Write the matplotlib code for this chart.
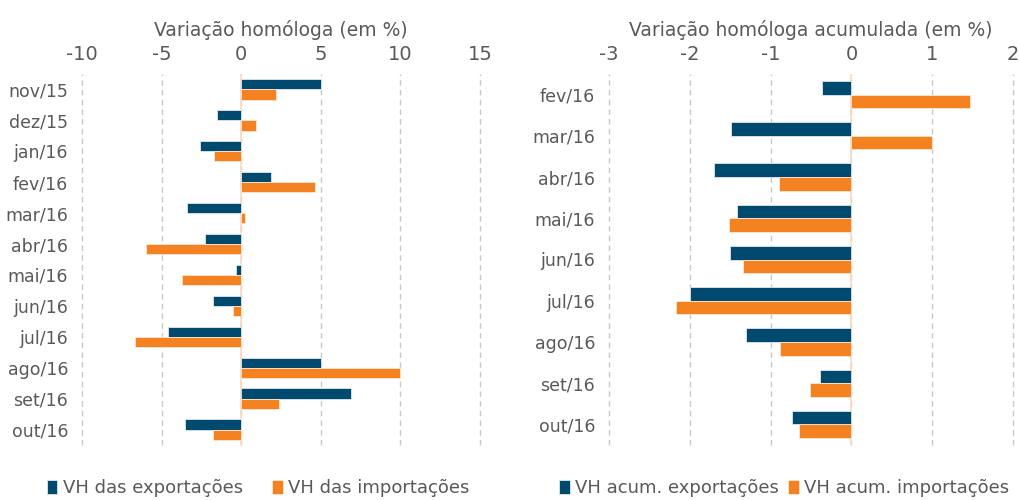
import matplotlib.pyplot as plt
import numpy as np

# left panel: monthly y/y change (%)
meses_l = ['nov/15', 'dez/15', 'jan/16', 'fev/16', 'mar/16', 'abr/16',
           'mai/16', 'jun/16', 'jul/16', 'ago/16', 'set/16', 'out/16']
vh_exp = [5.0, -1.5, -2.6, 1.85, -3.4, -2.25, -0.3, -1.8, -4.6, 5.0, 6.9, -3.5]
vh_imp = [2.2, 0.9, -1.7, 4.65, 0.25, -6.0, -3.7, -0.5, -6.7, 10.0, 2.4, -1.8]

# right panel: accumulated y/y change (%)
meses_r = ['fev/16', 'mar/16', 'abr/16', 'mai/16', 'jun/16',
           'jul/16', 'ago/16', 'set/16', 'out/16']
acum_exp = [-0.37, -1.49, -1.70, -1.42, -1.50, -2.0, -1.30, -0.39, -0.73]
acum_imp = [1.47, 1.0, -0.89, -1.51, -1.34, -2.17, -0.88, -0.51, -0.65]

azul = '#004A6F'
laranja = '#F58220'
cinza = '#595959'

plt.rcParams['font.family'] = ['DejaVu Sans']

fig = plt.figure(figsize=(10.19, 5.0), dpi=100)
ax1 = fig.add_axes([82 / 1019, 55 / 500, 398 / 1019, 371 / 500])
ax2 = fig.add_axes([609 / 1019, 55 / 500, 404 / 1019, 371 / 500])


def painel(ax, cats, exp, imp, xlim, ticks, titulo, lab_exp, lab_imp, leg_x, colsp):
    y = np.arange(len(cats))
    h = 0.33
    ax.barh(y - h / 2, exp, height=h, color=azul, edgecolor='#dde8ef',
            linewidth=0.6, label=lab_exp, zorder=3)
    ax.barh(y + h / 2, imp, height=h, color=laranja, edgecolor='#fde6d2',
            linewidth=0.6, label=lab_imp, zorder=3)
    ax.set_ylim(len(cats) - 0.5, -0.5)
    ax.set_xlim(*xlim)
    ax.set_xticks(ticks)
    ax.set_xticklabels([str(t) for t in ticks])
    ax.xaxis.tick_top()
    ax.xaxis.set_label_position('top')
    ax.set_xlabel(titulo, color=cinza, fontsize=13.5, labelpad=7)
    ax.set_yticks(y)
    ax.set_yticklabels(cats)
    ax.tick_params(axis='both', length=0, colors=cinza)
    ax.tick_params(axis='x', labelsize=14, pad=7)
    ax.tick_params(axis='y', labelsize=12.5, pad=10)
    for s in ax.spines.values():
        s.set_visible(False)
    ax.grid(axis='x', linestyle=(0, (4, 3)), color='#c8c8c8', linewidth=1, zorder=0)
    for gl in ax.get_xgridlines():
        gl.set_clip_on(False)
    ax.axvline(0, color='#fbd9bd', linewidth=1.2, zorder=2)
    ax.legend(loc='center', bbox_to_anchor=(leg_x, 12 / 500), bbox_transform=fig.transFigure,
              ncol=2, frameon=False, fontsize=13, handlelength=0.6, handleheight=0.8,
              handletextpad=0.3, columnspacing=colsp, labelcolor=cinza)


painel(ax1, meses_l, vh_exp, vh_imp, (-10, 15), [-10, -5, 0, 5, 10, 15],
       'Variação homóloga (em %)', 'VH das exportações', 'VH das importações',
       258 / 1019, 1.6)
painel(ax2, meses_r, acum_exp, acum_imp, (-3, 2), [-3, -2, -1, 0, 1, 2],
       'Variação homóloga acumulada (em %)', 'VH acum. exportações',
       'VH acum. importações', 784 / 1019, 0.5)

fig.savefig('out.png', dpi=100)
